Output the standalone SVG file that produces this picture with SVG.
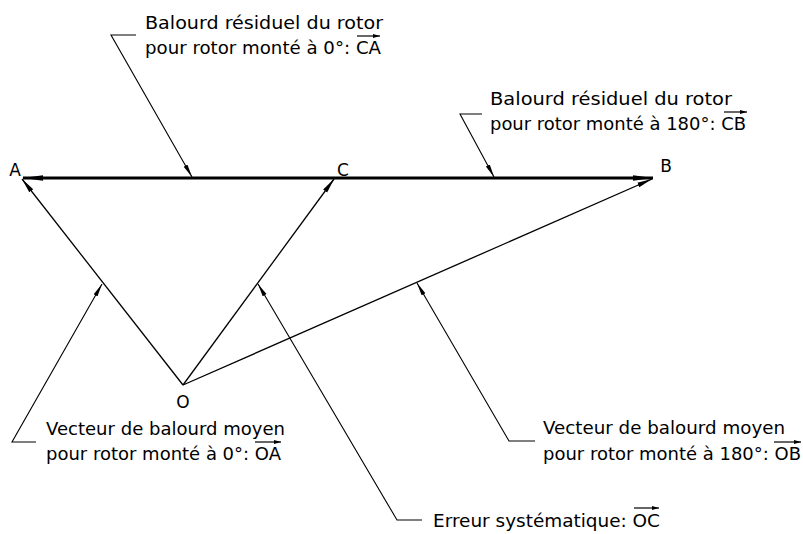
<svg xmlns="http://www.w3.org/2000/svg" width="803" height="534" viewBox="0 0 803 534">
<style>
.t{font-family:"DejaVu Sans","Liberation Sans",sans-serif;font-size:17px;fill:#000}
.l{font-family:"DejaVu Sans","Liberation Sans",sans-serif;font-size:18px;fill:#000}
.thin{stroke:#000;stroke-width:1.3;fill:none}
.lead{stroke:#000;stroke-width:1.1;fill:none}
.thick{stroke:#000;stroke-width:3.2;fill:none}
.vec{stroke:#000;stroke-width:1.2;fill:none}
</style>
<defs>
<marker id="ah" markerUnits="userSpaceOnUse" markerWidth="22" markerHeight="10" refX="20" refY="5" orient="auto" viewBox="0 0 22 10"><path d="M0,2.2 L20,5 L0,7.8 Z" fill="#000"/></marker>
<marker id="am" markerUnits="userSpaceOnUse" markerWidth="16" markerHeight="8" refX="15" refY="4" orient="auto" viewBox="0 0 16 8"><path d="M0,1.5 L15,4 L0,6.5 Z" fill="#000"/></marker>
<marker id="as" markerUnits="userSpaceOnUse" markerWidth="14" markerHeight="6" refX="13" refY="3" orient="auto" viewBox="0 0 14 6"><path d="M0,0.8 L13,3 L0,5.2 Z" fill="#000"/></marker>
<marker id="av" markerUnits="userSpaceOnUse" markerWidth="8" markerHeight="6" refX="7" refY="3" orient="auto" viewBox="0 0 8 6"><path d="M0,1 L7,3 L0,5 Z" fill="#000"/></marker>
</defs>
<g id="connectors">
<line class="thick" x1="334" y1="178" x2="23" y2="178" marker-end="url(#ah)"/>
<line class="thick" x1="334" y1="178" x2="653" y2="178" marker-end="url(#ah)"/>
<line class="thin" x1="183" y1="385" x2="22" y2="179" marker-end="url(#am)"/>
<line class="thin" x1="183" y1="385" x2="334" y2="179" marker-end="url(#am)"/>
<line class="thin" x1="183" y1="385" x2="652" y2="179" marker-end="url(#am)"/>
<polyline class="lead" points="136,35 111,35 192,177" marker-end="url(#as)"/>
<polyline class="lead" points="482,114 460,114 494,177" marker-end="url(#as)"/>
<polyline class="lead" points="36,442 12,442 102,284" marker-end="url(#as)"/>
<polyline class="lead" points="422,520 397,520 258,284" marker-end="url(#as)"/>
<polyline class="lead" points="535,441 509,441 417,283" marker-end="url(#as)"/>
</g>
<g id="node-A"><text class="t" x="15" y="176" text-anchor="middle">A</text></g>
<g id="node-C"><text class="t" x="343" y="176" text-anchor="middle">C</text></g>
<g id="node-B"><text class="t" x="666" y="172" text-anchor="middle">B</text></g>
<g id="node-O"><text class="t" x="183" y="408" text-anchor="middle">O</text></g>
<g id="label-CA">
<text class="l" x="145" y="29" textLength="238" lengthAdjust="spacingAndGlyphs">Balourd résiduel du rotor</text>
<text class="l" x="145" y="54" textLength="236" lengthAdjust="spacingAndGlyphs">pour rotor monté à 0°: CA</text>
<line class="vec" x1="357" y1="36" x2="380" y2="36" marker-end="url(#av)"/>
</g>
<g id="label-CB">
<text class="l" x="490" y="105" textLength="242" lengthAdjust="spacingAndGlyphs">Balourd résiduel du rotor</text>
<text class="l" x="490" y="130" textLength="256" lengthAdjust="spacingAndGlyphs">pour rotor monté à 180°: CB</text>
<line class="vec" x1="724" y1="112" x2="747" y2="112" marker-end="url(#av)"/>
</g>
<g id="label-OA">
<text class="l" x="46" y="435" textLength="239" lengthAdjust="spacingAndGlyphs">Vecteur de balourd moyen</text>
<text class="l" x="46" y="460" textLength="235" lengthAdjust="spacingAndGlyphs">pour rotor monté à 0°: OA</text>
<line class="vec" x1="255" y1="442" x2="281" y2="442" marker-end="url(#av)"/>
</g>
<g id="label-OB">
<text class="l" x="543" y="434" textLength="242" lengthAdjust="spacingAndGlyphs">Vecteur de balourd moyen</text>
<text class="l" x="543" y="460" textLength="258" lengthAdjust="spacingAndGlyphs">pour rotor monté à 180°: OB</text>
<line class="vec" x1="774" y1="442" x2="801" y2="442" marker-end="url(#av)"/>
</g>
<g id="label-OC">
<text class="l" x="433" y="527" textLength="227" lengthAdjust="spacingAndGlyphs">Erreur systématique: OC</text>
<line class="vec" x1="634" y1="508" x2="659" y2="508" marker-end="url(#av)"/>
</g>
</svg>
